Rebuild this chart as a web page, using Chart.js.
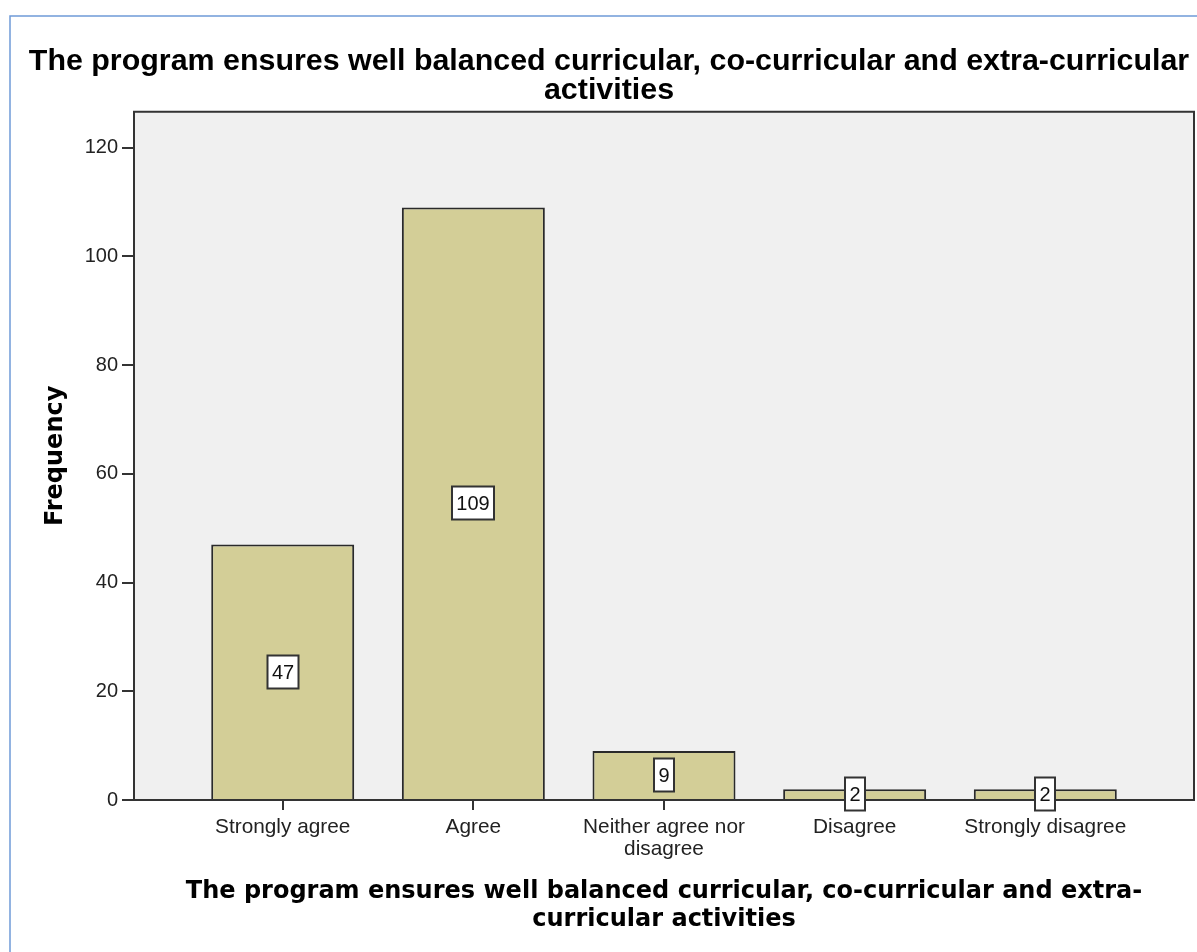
<!DOCTYPE html>
<html>
<head>
<meta charset="utf-8">
<script src="https://cdn.jsdelivr.net/npm/chart.js@4.4.1/dist/chart.umd.min.js"></script>
<style>
  html, body { margin: 0; padding: 0; background: #fff; }
  #grafico { display: block; }
</style>
</head>
<body>
<canvas id="grafico" width="1197" height="952"></canvas>
<script>
// ------------------------
// Dados
// ------------------------

const categorias = ['Strongly agree', 'Agree', 'Neither agree nor disagree', 'Disagree', 'Strongly disagree'];
const rotulosEixo = [['Strongly agree'], ['Agree'], ['Neither agree nor', 'disagree'], ['Disagree'], ['Strongly disagree']];
const frequencias = [47, 109, 9, 2, 2];
const ticksY = [0, 20, 40, 60, 80, 100, 120];

const titulo = ['The program ensures well balanced curricular, co-curricular and extra-curricular', 'activities'];
const tituloX = ['The program ensures well balanced curricular, co-curricular and extra-', 'curricular activities'];
const tituloY = 'Frequency';

const fonteArial = "'Liberation Sans', Arial, sans-serif";
const fonteDejavu = "'DejaVu Sans', Verdana, sans-serif";

// ------------------------
// Plugins
// ------------------------

// fundo cinza da área do gráfico + moldura azul externa
const fundoPlot = {
  id: 'fundoPlot',
  beforeDraw(chart) {
    const { ctx, chartArea: a } = chart;
    ctx.save();
    ctx.fillStyle = '#ffffff';
    ctx.fillRect(0, 0, chart.width, chart.height);
    ctx.fillStyle = '#f0f0f0';
    ctx.fillRect(a.left, a.top, a.right - a.left, a.bottom - a.top);

    ctx.strokeStyle = '#6f9bd8';
    ctx.lineWidth = 1.5;
    ctx.beginPath();
    ctx.moveTo(10, chart.height);
    ctx.lineTo(10, 16);
    ctx.lineTo(chart.width, 16);
    ctx.stroke();
    ctx.restore();
  }
};

// moldura escura em volta da área do gráfico
const molduraPlot = {
  id: 'molduraPlot',
  afterDatasetsDraw(chart) {
    const { ctx, chartArea: a } = chart;
    ctx.save();
    ctx.strokeStyle = '#333333';
    ctx.lineWidth = 2;
    ctx.strokeRect(a.left, a.top, a.right - a.left, a.bottom - a.top);
    ctx.restore();
  }
};

// caixinhas brancas com o valor no meio de cada barra
const rotulosValores = {
  id: 'rotulosValores',
  afterDraw(chart) {
    const ctx = chart.ctx;
    const meta = chart.getDatasetMeta(0);
    ctx.save();
    ctx.font = '20px ' + fonteArial;
    ctx.textAlign = 'center';
    ctx.textBaseline = 'middle';
    meta.data.forEach((barra, i) => {
      const texto = String(frequencias[i]);
      const w = Math.round(ctx.measureText(texto).width + 9);
      const h = 33;
      const cx = Math.round(barra.x);
      const cy = Math.round((barra.y + barra.base) / 2);
      ctx.fillStyle = '#ffffff';
      ctx.fillRect(cx - w / 2, cy - h / 2, w, h);
      ctx.strokeStyle = '#333333';
      ctx.lineWidth = 2;
      ctx.strokeRect(cx - w / 2, cy - h / 2, w, h);
      ctx.fillStyle = '#111111';
      ctx.fillText(texto, cx, cy + 1);
    });
    ctx.restore();
  }
};

// ------------------------
// Gráfico
// ------------------------

const ctx = document.getElementById('grafico').getContext('2d');
const grafico = new Chart(ctx, {
  type: 'bar',
  data: {
    datasets: [{
      label: 'Frequency',
      data: frequencias.map((v, i) => ({ x: i, y: v })),
      backgroundColor: '#d3ce97',
      borderColor: '#2a2a2a',
      borderWidth: 2,
      barPercentage: 0.75,
      categoryPercentage: 1
    }]
  },
  options: {
    responsive: false,
    animation: false,
    devicePixelRatio: 1,
    layout: { padding: { left: 24, right: 3, top: 0, bottom: 0 } },
    plugins: {
      legend: { display: false },
      tooltip: { enabled: false },
      title: {
        display: true,
        text: titulo,
        color: '#000000',
        font: { family: fonteArial, size: 30.4, weight: 'bold', lineHeight: 0.95 },
        padding: { top: 47, bottom: 7 }
      }
    },
    scales: {
      x: {
        type: 'linear',
        offset: false,
        min: -0.78,
        max: 4.78,
        afterBuildTicks: s => { s.ticks = categorias.map((c, i) => ({ value: i })); },
        afterFit: s => { s.height = 152; },
        ticks: {
          callback: v => rotulosEixo[v],
          autoSkip: false,
          maxRotation: 0,
          color: '#222222',
          padding: 6,
          font: { family: fonteArial, size: 20.8, lineHeight: 1.06 }
        },
        grid: { offset: false, drawOnChartArea: false, drawTicks: true, tickLength: 10, color: '#333333', lineWidth: 2 },
        border: { display: false },
        title: {
          display: true,
          text: tituloX,
          color: '#000000',
          font: { family: fonteDejavu, size: 24, weight: 'bold', lineHeight: 1.1667 },
          padding: { top: 0, bottom: 18 }
        }
      },
      y: {
        min: 0,
        max: 126.6,
        afterBuildTicks: s => { s.ticks = ticksY.map(v => ({ value: v })); },
        afterFit: s => { s.width = 110; },
        ticks: {
          color: '#222222',
          padding: 4,
          font: { family: fonteArial, size: 20 }
        },
        grid: { drawOnChartArea: false, drawTicks: true, tickLength: 12, color: '#333333', lineWidth: 2 },
        border: { display: false },
        title: {
          display: true,
          text: tituloY,
          color: '#000000',
          font: { family: fonteDejavu, size: 24, weight: 'bold', lineHeight: 1.2 },
          padding: { top: 17, bottom: 0 }
        }
      }
    }
  },
  plugins: [fundoPlot, molduraPlot, rotulosValores]
});
</script>
</body>
</html>
